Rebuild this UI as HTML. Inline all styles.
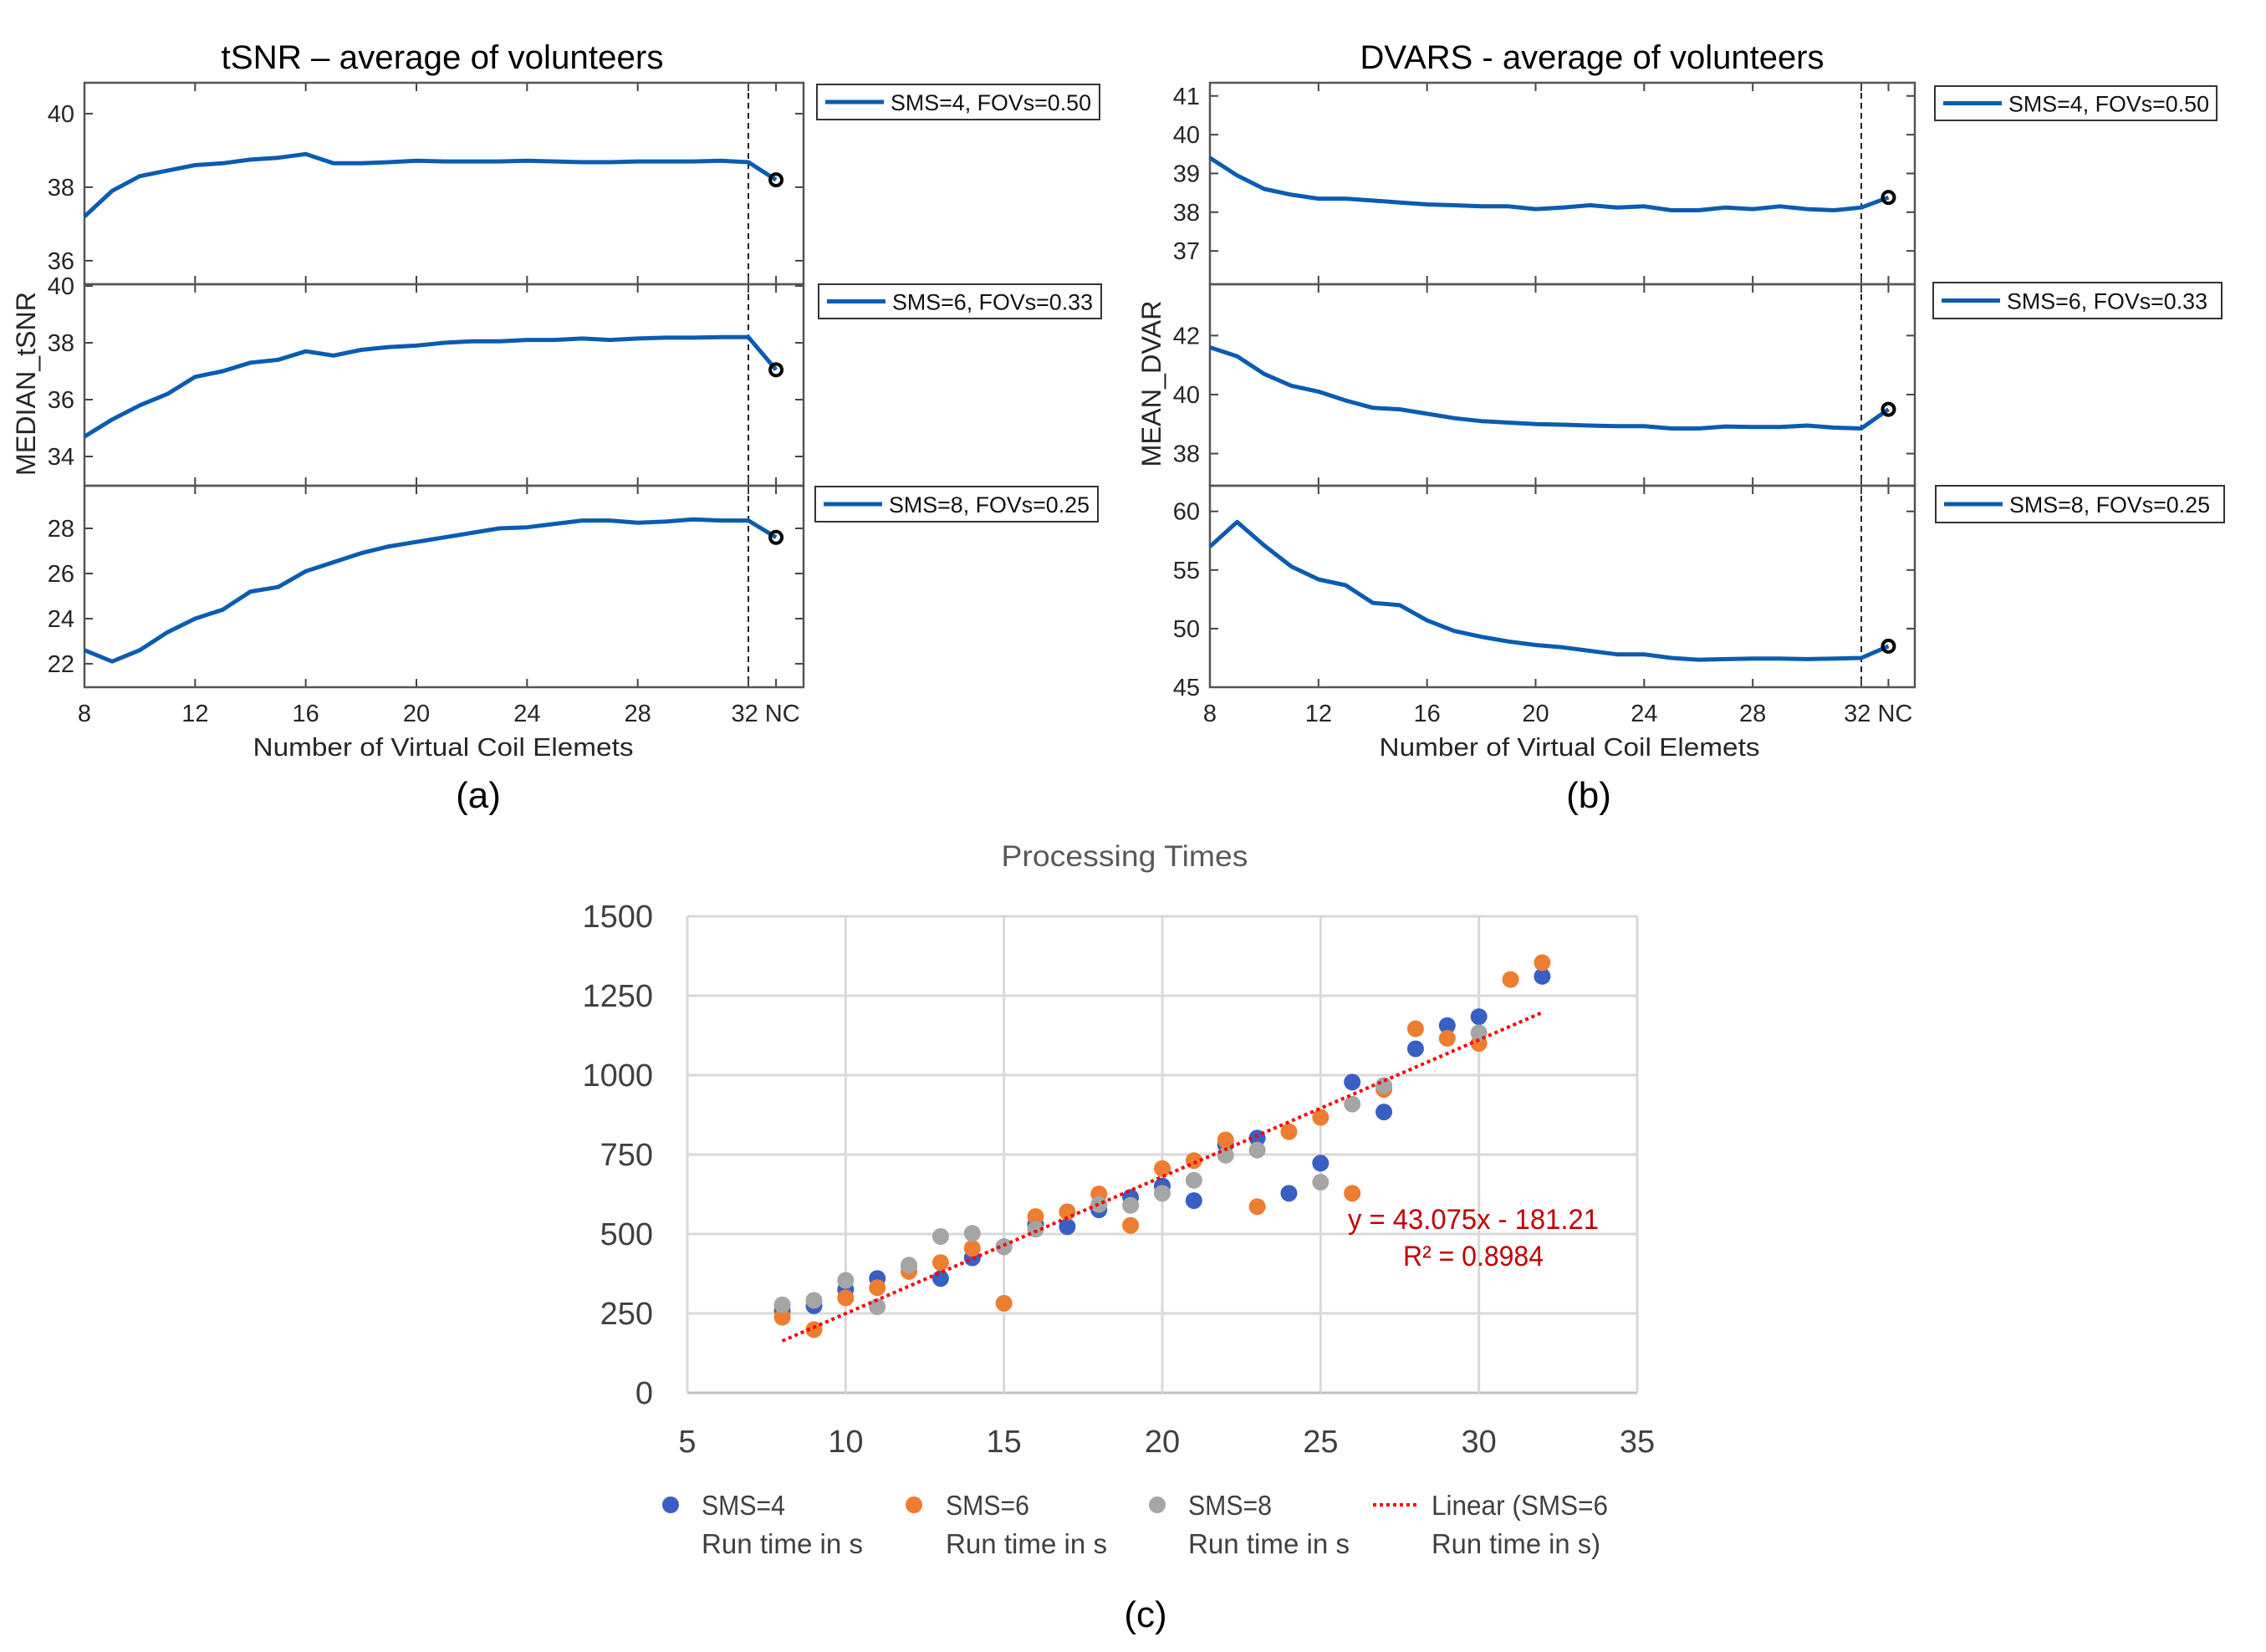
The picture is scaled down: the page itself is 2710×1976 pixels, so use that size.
<!DOCTYPE html>
<html><head><meta charset="utf-8"><style>
html,body{margin:0;padding:0;background:#fff;}
svg{display:block;font-family:"Liberation Sans",sans-serif;}
</style></head>
<body>
<svg id="fig" width="2710" height="1976" viewBox="0 0 2710 1976" xmlns="http://www.w3.org/2000/svg"></svg>
<script>
// ---------- data ----------
const coilCounts = [8,9,10,11,12,13,14,15,16,17,18,19,20,21,22,23,24,25,26,27,28,29,30,31,32];
const tsnrSms4 = [37.2,37.9,38.3,38.45,38.6,38.65,38.75,38.8,38.9,38.65,38.65,38.68,38.72,38.7,38.7,38.7,38.72,38.7,38.68,38.68,38.7,38.7,38.7,38.72,38.68];
const tsnrSms6 = [34.7,35.3,35.8,36.2,36.8,37.0,37.3,37.4,37.7,37.55,37.75,37.85,37.9,38.0,38.05,38.05,38.1,38.1,38.15,38.1,38.15,38.18,38.18,38.2,38.2];
const tsnrSms8 = [22.6,22.1,22.6,23.4,24.0,24.4,25.2,25.4,26.1,26.5,26.9,27.2,27.4,27.6,27.8,28.0,28.05,28.2,28.35,28.35,28.25,28.3,28.4,28.35,28.35];
const tsnrNC = [38.2,37.05,27.6];
const dvarSms4 = [39.4,38.95,38.6,38.45,38.35,38.35,38.3,38.25,38.2,38.18,38.15,38.15,38.08,38.12,38.18,38.12,38.15,38.05,38.05,38.12,38.08,38.15,38.08,38.05,38.12];
const dvarSms6 = [41.6,41.3,40.7,40.3,40.1,39.8,39.55,39.5,39.35,39.2,39.1,39.05,39.0,38.98,38.95,38.93,38.93,38.85,38.85,38.92,38.9,38.9,38.95,38.88,38.85];
const dvarSms8 = [57,59.1,57.1,55.3,54.2,53.7,52.2,52.0,50.7,49.8,49.3,48.9,48.6,48.4,48.1,47.8,47.8,47.5,47.35,47.4,47.45,47.45,47.4,47.45,47.5];
const dvarNC = [38.38,39.5,48.5];
const xTickLabels = ["8","12","16","20","24","28","32 NC"];
const legendLabels = ["SMS=4, FOVs=0.50","SMS=6, FOVs=0.33","SMS=8, FOVs=0.25"];
const tsnrYTicks = [[36,38,40],[34,36,38,40],[22,24,26,28]];
const dvarYTicks = [[37,38,39,40,41],[38,40,42],[45,50,55,60]];
const tsnrRanges = [[35.36,40.84],[32.97,40.06],[20.96,29.89]];
const dvarRanges = [[36.14,41.34],[36.91,43.74],[45,62.19]];

const sms4X = [8,9,10,11,12,13,14,15,16,17,18,19,20,21,22,23,24,25,26,27,28,29,30,32];
const sms4Y = [260,274,325,360,400,360,425,460,530,523,576,615,651,605,781,802,628,723,978,884,1083,1156,1184,1311];
const sms6X = [8,9,10,11,12,13,14,15,16,17,18,19,20,21,22,23,24,25,26,27,28,29,30,31,32];
const sms6Y = [238,199,299,331,382,410,455,282,555,570,626,527,706,731,796,586,822,867,628,955,1146,1116,1100,1301,1354];
const sms8X = [8,9,10,11,12,13,14,15,16,18,19,20,21,22,23,25,26,27,30];
const sms8Y = [277,291,354,271,402,492,502,460,515,593,590,628,669,748,764,663,909,967,1133];
const cXTicks = [5,10,15,20,25,30,35];
const cYTicks = [0,250,500,750,1000,1250,1500];
const trendSlope = 43.075, trendIntercept = -181.21, trendRange = [8,32];

// ---------- helpers ----------
const NS = "http://www.w3.org/2000/svg";
const svg = document.getElementById("fig");
function mk(tag, attrs, parent){
  const e = document.createElementNS(NS, tag);
  for (const k in attrs) e.setAttribute(k, attrs[k]);
  (parent||svg).appendChild(e);
  return e;
}
function txt(str, attrs, parent){
  const e = mk("text", attrs, parent);
  e.textContent = str;
  return e;
}

// ---------- MATLAB-style stacked panels ----------
const rows = [[99,340],[340,581],[581,822]];
const blue = "#0b5cb0";

function drawStack(cfg){
  const g = mk("g", {});
  
  
  const sx = v => cfg.x8 + (v-8)*(cfg.x32-cfg.x8)/24;
  const title = txt(cfg.title, {x:cfg.titleX, y:82, "text-anchor":"middle", "font-size":40, fill:"#000", textLength:cfg.titleW, lengthAdjust:"spacingAndGlyphs"}, g);
  
  
  const series = [cfg.s4, cfg.s6, cfg.s8];
  for (let r=0;r<3;r++){
    const [top,bot] = rows[r];
    const [ymin,ymax] = cfg.ranges[r];
    const sy = v => bot - (v-ymin)/(ymax-ymin)*(bot-top);
    const pg = mk("g", {}, g);
    
    
    const dl = mk("line", {x1:sx(32), x2:sx(32), y1:top, y2:bot, stroke:"#222", "stroke-width":2, "stroke-dasharray":"7,5"}, pg);
    
    
    [8,12,16,20,24,28,32,33].forEach(v=>{
      mk("line",{x1:sx(v),x2:sx(v),y1:top,y2:top+10,stroke:"#444","stroke-width":2},pg);
      mk("line",{x1:sx(v),x2:sx(v),y1:bot,y2:bot-10,stroke:"#444","stroke-width":2},pg);
    });
    cfg.yticks[r].forEach(v=>{
      const y = sy(v);
      mk("line",{x1:cfg.x8,x2:cfg.x8+10,y1:y,y2:y,stroke:"#444","stroke-width":2},pg);
      mk("line",{x1:cfg.xr,x2:cfg.xr-10,y1:y,y2:y,stroke:"#444","stroke-width":2},pg);
      const t = txt(String(v),{x:cfg.x8-12,y:y+10,"text-anchor":"end","font-size":29,fill:"#262626"},pg);
      
      
    });
    const fr = mk("rect",{x:cfg.x8,y:top,width:cfg.xr-cfg.x8,height:bot-top,fill:"none",stroke:"#555","stroke-width":2.5},pg);
    
    
    const vals = series[r];
    let d = coilCounts.map((c,i)=>(i?"L":"M")+sx(c).toFixed(1)+","+sy(vals[i]).toFixed(1)).join(" ");
    d += " L"+sx(33).toFixed(1)+","+sy(cfg.nc[r]).toFixed(1);
    const ln = mk("path",{d:d,fill:"none",stroke:blue,"stroke-width":5,"stroke-linejoin":"round"},pg);
    
    
    const mkc = mk("circle",{cx:sx(33),cy:sy(cfg.nc[r]),r:7,fill:"none",stroke:"#000","stroke-width":4},pg);
    
    
    const lb = cfg.legend[r];
    const lg = mk("g",{},g);
    
    
    mk("rect",{x:lb[0],y:lb[1],width:lb[2]-lb[0],height:lb[3]-lb[1],fill:"#fff",stroke:"#333","stroke-width":2},lg);
    const my = (lb[1]+lb[3])/2;
    mk("line",{x1:lb[0]+10,x2:lb[0]+80,y1:my,y2:my,stroke:blue,"stroke-width":5},lg);
    txt(legendLabels[r],{x:lb[0]+88,y:my+10,"font-size":27,fill:"#111",textLength:240,lengthAdjust:"spacingAndGlyphs"},lg);
  }
  [8,12,16,20,24,28].forEach((v,i)=>{
    const t = txt(xTickLabels[i],{x:sx(v),y:863,"text-anchor":"middle","font-size":29,fill:"#262626"},g);
    
    
  });
  const t32 = txt(xTickLabels[6],{x:(sx(32)+sx(33))/2+4,y:863,"text-anchor":"middle","font-size":29,fill:"#262626"},g);
  
  
  const xl = txt("Number of Virtual Coil Elemets",{x:cfg.xlabelX,y:904,"text-anchor":"middle","font-size":31,fill:"#262626",textLength:455,lengthAdjust:"spacingAndGlyphs"},g);
  
  
  const yl = txt(cfg.ylabel,{x:0,y:0,"text-anchor":"middle","font-size":32,fill:"#262626",textLength:cfg.ylabelW,lengthAdjust:"spacingAndGlyphs",transform:"translate("+cfg.ylabelX+",459) rotate(-90)"},g);
  
  
  const cap = txt(cfg.caption,{x:cfg.captionX,y:966,"text-anchor":"middle","font-size":44,fill:"#000"},g);
  
  
}

drawStack({name:"tsnr-panel", title:"tSNR – average of volunteers", titleX:529, titleW:529,
  x8:101, x32:895, xr:961, ranges:tsnrRanges, yticks:tsnrYTicks,
  s4:tsnrSms4, s6:tsnrSms6, s8:tsnrSms8, nc:tsnrNC,
  legend:[[977,101,1315,143],[979,340,1317,381],[975,582,1313,624]],
  xlabelX:530, ylabel:"MEDIAN_tSNR", ylabelX:42, ylabelW:220, caption:"(a)", captionX:572});

drawStack({name:"dvars-panel", title:"DVARS - average of volunteers", titleX:1904, titleW:555,
  x8:1447, x32:2226, xr:2290, ranges:dvarRanges, yticks:dvarYTicks,
  s4:dvarSms4, s6:dvarSms6, s8:dvarSms8, nc:dvarNC,
  legend:[[2314,103,2651,144],[2312,338,2657,381],[2315,581,2660,625]],
  xlabelX:1877, ylabel:"MEAN_DVAR", ylabelX:1388, ylabelW:199, caption:"(b)", captionX:1900});

// ---------- Processing times scatter ----------
const cx0 = 822, cx1 = 1958, cy0 = 1666, cy1 = 1096;
const csx = v => cx0 + (v-5)/30*(cx1-cx0);
const csy = v => cy0 - v/1500*(cy0-cy1);
const cg = mk("g",{});


const ct = txt("Processing Times",{x:1345,y:1036,"text-anchor":"middle","font-size":35,fill:"#595959",textLength:295,lengthAdjust:"spacingAndGlyphs"},cg);


cYTicks.forEach(v=>{
  const gl = mk("line",{x1:cx0,x2:cx1,y1:csy(v),y2:csy(v),stroke:v===0?"#bfbfbf":"#d9d9d9","stroke-width":3},cg);
  
  
  const t = txt(String(v),{x:781,y:csy(v)+13,"text-anchor":"end","font-size":38,fill:"#404040"},cg);
  
  
});
cXTicks.forEach(v=>{
  const gl = mk("line",{x1:csx(v),x2:csx(v),y1:cy1,y2:cy0,stroke:"#d9d9d9","stroke-width":3},cg);
  
  
  const t = txt(String(v),{x:csx(v),y:1737,"text-anchor":"middle","font-size":38,fill:"#404040"},cg);
  
  
});
function dots(xs, ys, color, name){
  const sg = mk("g",{},cg);
  
  
  xs.forEach((x,i)=>{
    const c = mk("circle",{cx:csx(x),cy:csy(ys[i]),r:10,fill:color},sg);
    
    
  });
}
dots(sms4X, sms4Y, "#3a5fc4", "series-sms4");
dots(sms6X, sms6Y, "#ed7d31", "series-sms6");
dots(sms8X, sms8Y, "#a5a5a5", "series-sms8");
const tl = mk("line",{x1:csx(trendRange[0]),y1:csy(trendSlope*trendRange[0]+trendIntercept),x2:csx(trendRange[1]),y2:csy(trendSlope*trendRange[1]+trendIntercept),stroke:"#ff0000","stroke-width":4,"stroke-dasharray":"4,4"},cg);


const eq = txt("y = 43.075x - 181.21",{x:1612,y:1470,"font-size":34,fill:"#c00000",textLength:300,lengthAdjust:"spacingAndGlyphs"},cg);


const r2 = txt("R² = 0.8984",{x:1678,y:1514,"font-size":34,fill:"#c00000",textLength:168,lengthAdjust:"spacingAndGlyphs"},cg);



const legItems = [[802,839,"#3a5fc4","SMS=4","Run time in s",100,193],[1093,1131,"#ed7d31","SMS=6","Run time in s",100,193],[1384,1421,"#a5a5a5","SMS=8","Run time in s",100,193]];
legItems.forEach(it=>{
  const lg = mk("g",{},cg);
  
  
  mk("circle",{cx:it[0],cy:1800,r:10,fill:it[2]},lg);
  txt(it[3],{x:it[1],y:1812,"font-size":33,fill:"#404040",textLength:it[5],lengthAdjust:"spacingAndGlyphs"},lg);
  txt(it[4],{x:it[1],y:1858,"font-size":33,fill:"#404040",textLength:it[6],lengthAdjust:"spacingAndGlyphs"},lg);
});
const lt = mk("g",{},cg);


mk("line",{x1:1642,x2:1696,y1:1800,y2:1800,stroke:"#ff0000","stroke-width":4,"stroke-dasharray":"4,4"},lt);
txt("Linear (SMS=6",{x:1712,y:1812,"font-size":33,fill:"#404040",textLength:211,lengthAdjust:"spacingAndGlyphs"},lt);
txt("Run time in s)",{x:1712,y:1858,"font-size":33,fill:"#404040",textLength:202,lengthAdjust:"spacingAndGlyphs"},lt);
const capc = txt("(c)",{x:1370,y:1946,"text-anchor":"middle","font-size":44,fill:"#000"},cg);


</script>
</body></html>
